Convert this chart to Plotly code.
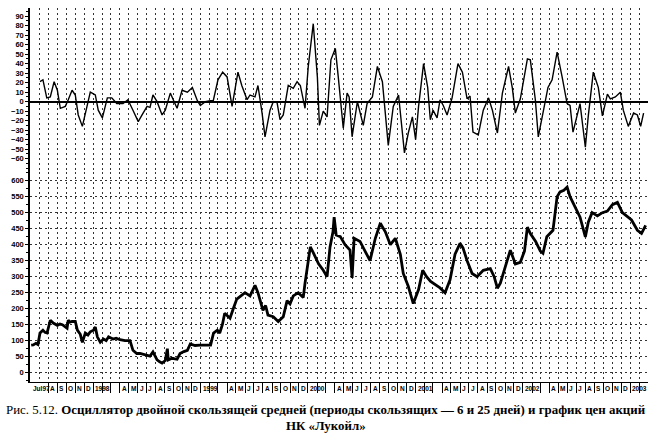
import pandas as pd
import plotly.graph_objects as go
from plotly.subplots import make_subplots

# ---------------- data ----------------
osc_dates = [
    "1997-07-04", "1997-07-14", "1997-07-27", "1997-08-08", "1997-08-21", "1997-09-01",
    "1997-09-11", "1997-09-28", "1997-10-08", "1997-10-21", "1997-11-01", "1997-11-11",
    "1997-11-25", "1997-12-05", "1997-12-22", "1998-01-08", "1998-01-18", "1998-02-01",
    "1998-02-18", "1998-03-05", "1998-03-22", "1998-04-12", "1998-04-29", "1998-05-16",
    "1998-06-03", "1998-06-16", "1998-07-03", "1998-07-13", "1998-07-23", "1998-08-06",
    "1998-08-23", "1998-09-03", "1998-09-20", "1998-09-30", "1998-10-13", "1998-10-30",
    "1998-11-17", "1998-12-04", "1998-12-21", "1998-12-31", "1999-01-17", "1999-02-04",
    "1999-02-13", "1999-03-01", "1999-03-17", "1999-04-01", "1999-04-18", "1999-05-08",
    "1999-05-21", "1999-06-08", "1999-06-18", "1999-07-05", "1999-07-15", "1999-07-29",
    "1999-08-08", "1999-08-25", "1999-09-05", "1999-09-18", "1999-09-28", "1999-10-09",
    "1999-10-26", "1999-11-12", "1999-11-25", "1999-12-06", "1999-12-22", "2000-01-02",
    "2000-01-19", "2000-02-02", "2000-02-09", "2000-02-22", "2000-03-06", "2000-03-19",
    "2000-04-03", "2000-04-13", "2000-04-30", "2000-05-13", "2000-05-20", "2000-05-30",
    "2000-06-17", "2000-07-07", "2000-07-20", "2000-08-07", "2000-08-24", "2000-09-10",
    "2000-09-30", "2000-10-17", "2000-11-04", "2000-11-24", "2000-12-07", "2000-12-21",
    "2001-01-01", "2001-01-11", "2001-01-28", "2001-02-11", "2001-02-20", "2001-03-01",
    "2001-03-15", "2001-03-25", "2001-04-05", "2001-04-18", "2001-05-05", "2001-05-25",
    "2001-06-09", "2001-06-25", "2001-07-05", "2001-07-15", "2001-08-02", "2001-08-19",
    "2001-09-06", "2001-09-19", "2001-10-06", "2001-10-23", "2001-11-13", "2001-11-26",
    "2001-12-06", "2001-12-23", "2002-01-16", "2002-01-26", "2002-02-12", "2002-02-22",
    "2002-03-10", "2002-03-27", "2002-04-10", "2002-04-27", "2002-05-14", "2002-05-31",
    "2002-06-10", "2002-06-20", "2002-07-14", "2002-08-01", "2002-08-11", "2002-08-28",
    "2002-09-14", "2002-09-28", "2002-10-15", "2002-10-25", "2002-11-11", "2002-11-28",
    "2002-12-08", "2002-12-25", "2003-01-12", "2003-01-25", "2003-02-05", "2003-02-15",
]
osc_values = [
    21, 23, 4, 5, 21, 12,
    -7, -5, 2, 12, 7, -14,
    -26, -12, 10, 7, -9, -17,
    4, 4, -2, -2, 2, -9,
    -21, -14, -5, -6, 7, 0,
    -14, -9, 9, 2, -7, 12,
    10, 15, 1, -4, 0, 1,
    1, 23, 31, 26, -5, 31,
    17, 2, 7, 5, 17, -12,
    -37, -9, 0, -1, -19, -14,
    17, 14, 21, 17, -7, 37,
    82, 26, -25, -10, -16, 44,
    56, 26, -28, 9, 5, -37,
    0, -25, -2, 5, 37, 21,
    -46, -5, 7, -54, -33, -16,
    -40, -5, 40, 15, -19, -9,
    -17, 2, -4, -14, 4, 40,
    31, 3, 6, -32, -35, -9,
    4, -9, -33, 9, 37, 14,
    -12, 3, 45, 44, 2, -37,
    -12, 15, 23, 52, 26, -2,
    -4, -32, -2, -48, -15, 31,
    15, -15, 8, 3, 5, 10,
    -9, -26, -12, -14, -26, -12,
]

price_dates = [
    "1997-06-04", "1997-06-11", "1997-06-20", "1997-06-27", "1997-07-04", "1997-07-14",
    "1997-07-21", "1997-07-28", "1997-08-08", "1997-08-18", "1997-09-01", "1997-09-10",
    "1997-09-18", "1997-09-26", "1997-10-04", "1997-10-08", "1997-10-14", "1997-10-21",
    "1997-11-01", "1997-11-08", "1997-11-18", "1997-11-25", "1997-12-05", "1997-12-14",
    "1997-12-22", "1998-01-02", "1998-01-08", "1998-01-15", "1998-01-25", "1998-02-05",
    "1998-02-14", "1998-02-22", "1998-03-09", "1998-03-20", "1998-04-02", "1998-04-19",
    "1998-05-06", "1998-05-16", "1998-05-29", "1998-06-09", "1998-06-26", "1998-07-13",
    "1998-07-23", "1998-08-06", "1998-08-15", "1998-08-23", "1998-09-03", "1998-09-10",
    "1998-09-13", "1998-09-26", "1998-10-13", "1998-10-23", "1998-11-05", "1998-11-17",
    "1998-11-27", "1998-12-13", "1998-12-31", "1999-01-17", "1999-02-04", "1999-02-14",
    "1999-02-27", "1999-03-07", "1999-03-16", "1999-03-24", "1999-04-11", "1999-04-22",
    "1999-05-04", "1999-05-18", "1999-06-01", "1999-06-18", "1999-07-05", "1999-07-15",
    "1999-08-01", "1999-08-10", "1999-08-18", "1999-09-05", "1999-09-22", "1999-10-09",
    "1999-10-22", "1999-11-01", "1999-11-12", "1999-11-29", "1999-12-16", "1999-12-22",
    "1999-12-29", "2000-01-09", "2000-01-19", "2000-02-06", "2000-02-22", "2000-03-06",
    "2000-03-16", "2000-03-26", "2000-03-30", "2000-04-06", "2000-04-20", "2000-05-06",
    "2000-05-23", "2000-05-30", "2000-06-06", "2000-06-26", "2000-07-13", "2000-07-30",
    "2000-08-17", "2000-09-03", "2000-09-20", "2000-10-07", "2000-10-24", "2000-11-10",
    "2000-11-20", "2000-12-07", "2000-12-24", "2001-01-11", "2001-01-25", "2001-02-07",
    "2001-02-21", "2001-03-08", "2001-03-25", "2001-04-11", "2001-04-28", "2001-05-15",
    "2001-06-01", "2001-06-11", "2001-06-25", "2001-07-12", "2001-07-29", "2001-08-19",
    "2001-09-12", "2001-09-25", "2001-10-06", "2001-10-16", "2001-11-02", "2001-11-19",
    "2001-12-06", "2001-12-23", "2002-01-06", "2002-01-16", "2002-01-26", "2002-02-13",
    "2002-03-01", "2002-03-10", "2002-03-23", "2002-04-13", "2002-04-27", "2002-05-07",
    "2002-05-20", "2002-05-31", "2002-06-10", "2002-06-27", "2002-07-14", "2002-08-01",
    "2002-08-11", "2002-08-24", "2002-09-11", "2002-09-28", "2002-10-15", "2002-11-01",
    "2002-11-18", "2002-12-05", "2002-12-22", "2003-01-05", "2003-01-25", "2003-02-08",
    "2003-02-22",
]
price_values = [
    86, 87, 92, 88, 124, 133,
    126, 124, 164, 155, 148, 152,
    150, 143, 139, 164, 158, 160,
    160, 133, 120, 95, 124, 118,
    128, 133, 143, 112, 95, 105,
    100, 112, 105, 108, 103, 100,
    100, 70, 60, 60, 55, 52,
    65, 40, 34, 30, 38, 75,
    40, 45, 42, 60, 66, 70,
    90, 85, 86, 85, 86, 124,
    133, 124, 150, 186, 170, 200,
    230, 240, 250, 240, 273, 250,
    195, 210, 180, 175, 160, 175,
    225, 215, 240, 250, 235, 280,
    320, 393, 375, 340, 320, 300,
    393, 440, 486, 430, 425, 400,
    383, 296, 420, 410, 380, 350,
    420, 467, 440, 400, 420, 370,
    310, 270, 216, 260, 320, 300,
    285, 275, 265, 250, 290, 370,
    404, 390, 350, 310, 300, 320,
    325, 300, 264, 280, 330, 383,
    340, 345, 380, 455, 435, 410,
    380, 373, 425, 445, 550, 565,
    570, 580, 550, 520, 486, 424,
    470, 500, 490, 500, 505, 525,
    532, 500, 487, 477, 445, 435,
    460,
]

osc_ticks = list(range(-60, 100, 10))
price_ticks = list(range(0, 650, 50))
x_range = ["1997-05-31", "2003-03-02"]
grid_months = pd.date_range("1997-06-01", "2003-02-01", freq="MS")
tick_months = pd.date_range("1997-08-01", "2003-02-01", freq="MS")
month_letters = {2: "", 3: "", 4: "A", 5: "M", 6: "J", 7: "J",
                 8: "A", 9: "S", 10: "O", 11: "N", 12: "D"}
first_label = "Jul97"

caption_1 = ("Рис. 5.12. <b>Осциллятор двойной скользящей средней "
             "(периоды скользящих — 6 и 25 дней) и график цен акций</b>")
caption_2 = "<b>НК «Лукойл»</b>"

# ---------------- figure ----------------
fig = make_subplots(rows=2, cols=1, shared_xaxes=True,
                    vertical_spacing=0, row_heights=[164, 210])

fig.add_trace(go.Scatter(x=osc_dates, y=osc_values, mode="lines",
                         line=dict(color="black", width=1.4)), row=1, col=1)
fig.add_trace(go.Scatter(x=price_dates, y=price_values, mode="lines",
                         line=dict(color="black", width=2.8)), row=2, col=1)

dot = "2px,3px"
gridc = "#333333"
tickfont = dict(family="Liberation Sans", size=7.5, color="black", weight="bold")
labfont = dict(family="Liberation Sans", size=6.5, color="black", weight="bold")

minor_grid = dict(tickvals=list(grid_months), showgrid=True, griddash=dot,
                  gridcolor=gridc, gridwidth=1, ticks="")

fig.update_xaxes(range=x_range, showgrid=False, showticklabels=False,
                 zeroline=False, minor=minor_grid, row=1, col=1, ticks="")
fig.update_xaxes(range=x_range, showgrid=False, showticklabels=False,
                 zeroline=False, minor=minor_grid,
                 tickvals=list(tick_months), ticks="outside", ticklen=10,
                 tickcolor="black", tickwidth=1,
                 showline=True, linecolor="black", linewidth=1.2,
                 row=2, col=1)

fig.update_yaxes(range=[-74, 98.5], tickvals=osc_ticks, ticks="outside",
                 ticklen=3, tickcolor="black", showline=True, linecolor="black",
                 linewidth=1.5, showgrid=False, zeroline=True,
                 zerolinecolor="black", zerolinewidth=1.6, tickfont=tickfont,
                 minor=dict(dtick=5, ticks="outside", ticklen=2, tickcolor="black"),
                 row=1, col=1)
fig.update_yaxes(range=[-29, 627], tickvals=price_ticks, ticks="outside",
                 ticklen=3, tickcolor="black", showline=True, linecolor="black",
                 linewidth=1.5, showgrid=True, griddash=dot, gridcolor=gridc,
                 gridwidth=1, zeroline=False, tickfont=tickfont,
                 minor=dict(dtick=25, ticks="outside", ticklen=2, tickcolor="black"),
                 row=2, col=1)

# month labels to the right of each tick
annotations = [dict(x=x_range[0], y=0, xref="x2", yref="paper", text=first_label,
                    showarrow=False, xanchor="left", yanchor="top", xshift=1,
                    yshift=-1, font=labfont)]
for d in tick_months:
    lab = str(d.year) if d.month == 1 else month_letters[d.month]
    if not lab:
        continue
    annotations.append(dict(x=d.strftime("%Y-%m-%d"), y=0, xref="x2", yref="paper",
                            text=lab, showarrow=False, xanchor="left",
                            yanchor="top", xshift=0, yshift=-1, font=labfont))

annotations.append(dict(x=0.479, y=0, xref="paper", yref="paper", text=caption_1,
                        showarrow=False, xanchor="center", yanchor="middle",
                        yshift=-28, font=dict(family="Liberation Serif", size=12.9,
                                              color="black")))
annotations.append(dict(x=0.479, y=0, xref="paper", yref="paper", text=caption_2,
                        showarrow=False, xanchor="center", yanchor="middle",
                        yshift=-44, font=dict(family="Liberation Serif", size=12.9,
                                              color="black")))

fig.update_layout(width=652, height=437, margin=dict(l=30, r=4, t=8, b=55),
                  paper_bgcolor="white", plot_bgcolor="white", showlegend=False,
                  annotations=annotations)

fig.write_html("out.html", config={"displayModeBar": False},
               post_script="document.body.style.margin='0px';"
                           "document.body.style.overflow='hidden';")
